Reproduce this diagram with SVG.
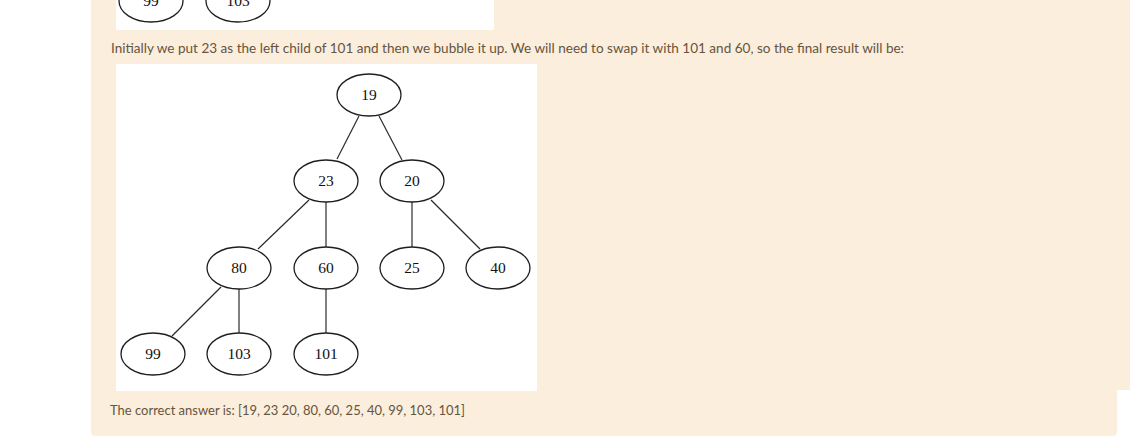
<svg xmlns="http://www.w3.org/2000/svg" width="1130" height="440" viewBox="0 0 1130 440">
<style>
.n ellipse{fill:#fff;stroke:#1e1e1e;stroke-width:1.3}
.n text{font-family:"Liberation Serif",serif;font-size:15.5px;fill:#111;text-anchor:middle}
.e line{stroke:#2a2a2a;stroke-width:1.2}
.p{font-family:Lato,"Open Sans",sans-serif;font-size:14px;fill:#66543d}
</style>
<rect x="0" y="0" width="1130" height="440" fill="#fff"/>
<path d="M91 0 H1130 V390 H1117 V432 Q1117 436 1113 436 H95 Q91 436 91 432 Z" fill="#fbeedc"/>
<rect x="116" y="0" width="378" height="30" fill="#fff"/>
<g id="prev99" class="n"><ellipse cx="151" cy="1" rx="32" ry="21"/><text x="151" y="6">99</text></g>
<g id="prev103" class="n"><ellipse cx="238" cy="1" rx="32" ry="21"/><text x="238" y="6">103</text></g>
<text class="p" x="111" y="53" textLength="793" lengthAdjust="spacingAndGlyphs">Initially we put 23 as the left child of 101 and  then we bubble it up. We will need to swap it with 101 and 60, so the final result will be:</text>
<rect x="116" y="64" width="421" height="327" fill="#fff"/>
<g id="edges" class="e">
<line x1="359" y1="116" x2="337" y2="159"/>
<line x1="379" y1="116" x2="402" y2="160"/>
<line x1="309" y1="200" x2="258" y2="249"/>
<line x1="326" y1="202" x2="326" y2="247"/>
<line x1="412" y1="202" x2="412" y2="247"/>
<line x1="431" y1="200" x2="480" y2="249"/>
<line x1="221" y1="287" x2="172" y2="336"/>
<line x1="239" y1="289" x2="239" y2="333"/>
<line x1="326" y1="289" x2="326" y2="333"/>
</g>
<g id="n19" class="n"><ellipse cx="369" cy="95" rx="32" ry="21"/><text x="369" y="100">19</text></g>
<g id="n23" class="n"><ellipse cx="326" cy="181" rx="32" ry="21"/><text x="326" y="186">23</text></g>
<g id="n20" class="n"><ellipse cx="412" cy="181" rx="32" ry="21"/><text x="412" y="186">20</text></g>
<g id="n80" class="n"><ellipse cx="239" cy="268" rx="32" ry="21"/><text x="239" y="273">80</text></g>
<g id="n60" class="n"><ellipse cx="326" cy="268" rx="32" ry="21"/><text x="326" y="273">60</text></g>
<g id="n25" class="n"><ellipse cx="412" cy="268" rx="32" ry="21"/><text x="412" y="273">25</text></g>
<g id="n40" class="n"><ellipse cx="498" cy="268" rx="32" ry="21"/><text x="498" y="273">40</text></g>
<g id="n99" class="n"><ellipse cx="153" cy="354" rx="32" ry="21"/><text x="153" y="359">99</text></g>
<g id="n103" class="n"><ellipse cx="239" cy="354" rx="32" ry="21"/><text x="239" y="359">103</text></g>
<g id="n101" class="n"><ellipse cx="326" cy="354" rx="32" ry="21"/><text x="326" y="359">101</text></g>
<text class="p" x="110" y="415" textLength="355" lengthAdjust="spacingAndGlyphs">The correct answer is: [19, 23 20, 80, 60, 25, 40, 99, 103, 101]</text>
</svg>
